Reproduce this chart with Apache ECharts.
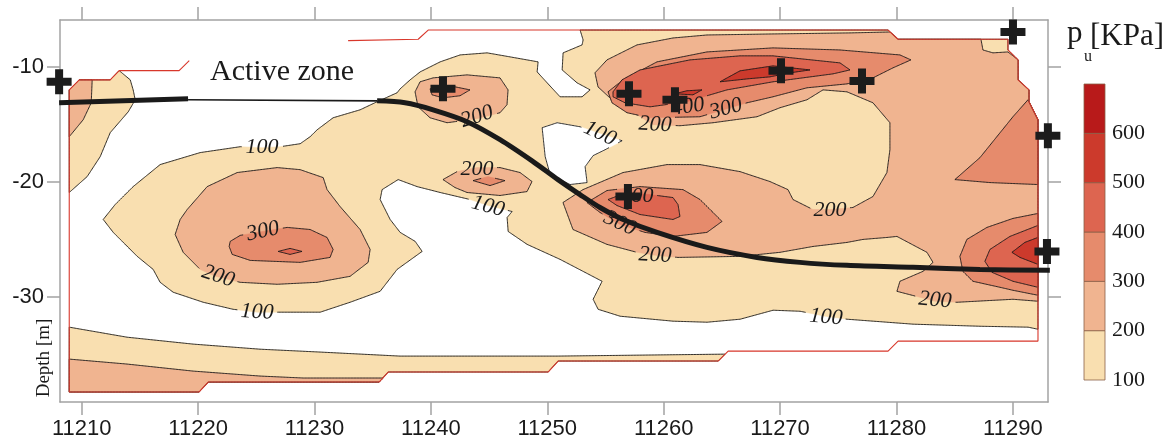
<!DOCTYPE html>
<html><head><meta charset="utf-8">
<script src="https://cdn.jsdelivr.net/npm/echarts@6/dist/echarts.min.js"></script>
<style>html,body{margin:0;padding:0;background:#fff}#c{width:1167px;height:440px}</style>
</head><body><div id="c"></div>
<script>
// ---------- axes / legend values ----------
const xTicks = [11210,11220,11230,11240,11250,11260,11270,11280,11290];
const yTicks = [-30,-20,-10];
const levelEdges = [100,200,300,400,500,600,700];
const levelColors = ['#f9dfb0','#f0b490','#e68b6c','#dd6550','#cc3a2c','#b81a1a'];

// ---------- mesh (data domain) edge ----------
const domainEdge = [[11232.89,-7.75],[11238.91,-7.63],[11239.77,-6.83],[11279.28,-6.83],[11280.14,-7.63],[11289.58,-7.63],[11289.58,-8.56],[11290.45,-9.42],[11290.45,-11.15],[11291.39,-12.02],[11291.39,-13.05],[11292.16,-14.61],[11292.16,-33.81],[11280.14,-33.81],[11279.28,-34.68],[11265.54,-34.68],[11264.68,-35.54],[11250.93,-35.54],[11250.07,-36.49],[11236.33,-36.49],[11235.55,-37.36],[11220.87,-37.36],[11220.09,-38.22],[11208.93,-38.22],[11208.93,-12.02],[11209.79,-11.15],[11212.45,-11.15],[11213.22,-10.35],[11218.37,-10.35],[11219.24,-9.48]];

// ---------- filled contour regions (p_u levels) ----------
const zoneTopLeft100 = [[11208.93,-12.02],[11209.79,-11.15],[11212.45,-11.15],[11213.22,-10.35],[11214.17,-11.15],[11214.42,-12.02],[11214.6,-12.88],[11214.0,-13.92],[11212.45,-15.73],[11211.59,-17.81],[11210.47,-19.54],[11208.93,-20.92]];
const zoneTopLeft200 = [[11208.93,-12.02],[11209.79,-11.15],[11210.9,-11.15],[11210.82,-13.14],[11210.13,-14.61],[11208.93,-16.08]];
const zoneBottom100 = [[11208.93,-32.6],[11213.9,-33.47],[11219.58,-34.07],[11225.32,-34.51],[11230.49,-34.76],[11237.36,-35.11],[11250.85,-35.11],[11265.27,-34.94],[11264.68,-35.54],[11250.93,-35.54],[11250.07,-36.49],[11236.33,-36.49],[11235.55,-37.36],[11220.87,-37.36],[11220.09,-38.22],[11208.93,-38.22]];
const zoneBottom200 = [[11208.93,-35.37],[11213.9,-35.8],[11219.58,-36.41],[11225.32,-36.84],[11229.03,-37.01],[11235.9,-37.01],[11235.55,-37.36],[11220.87,-37.36],[11220.09,-38.22],[11208.93,-38.22]];
const zoneMain100 = [[11252.82,-6.83],[11253.08,-7.69],[11252.99,-8.12],[11251.36,-8.81],[11251.28,-10.29],[11252.56,-11.41],[11253.68,-12.02],[11252.99,-12.62],[11251.1,-12.62],[11249.99,-11.41],[11249.13,-10.46],[11249.21,-9.59],[11246.81,-9.16],[11244.83,-8.81],[11242.51,-8.99],[11240.8,-9.59],[11239.08,-10.46],[11238.22,-11.15],[11237.36,-11.93],[11237.1,-12.27],[11235.38,-13.05],[11233.92,-13.75],[11231.6,-14.44],[11230.23,-15.48],[11229.63,-16.08],[11228.77,-16.69],[11227.05,-16.95],[11225.51,-17.03],[11223.62,-16.95],[11220.18,-17.46],[11216.74,-18.5],[11214.42,-20.41],[11212.88,-21.96],[11211.85,-23.26],[11212.71,-24.38],[11214.77,-26.46],[11216.14,-27.59],[11216.74,-28.71],[11217.86,-29.57],[11220.44,-30.44],[11223.01,-31.05],[11225.08,-31.3],[11227.05,-31.3],[11230.49,-31.3],[11233.06,-30.44],[11235.64,-29.49],[11237.1,-27.59],[11239.25,-26.03],[11238.65,-25.16],[11237.36,-24.38],[11236.5,-23.26],[11235.64,-21.53],[11235.81,-20.67],[11237.19,-19.8],[11238.82,-20.41],[11240.8,-20.92],[11243.37,-21.53],[11244.92,-22.05],[11246.98,-22.57],[11246.55,-23.09],[11246.64,-24.3],[11248.27,-25.42],[11251.1,-26.72],[11254.71,-28.62],[11253.94,-30.18],[11254.37,-31.05],[11256.26,-31.65],[11260.81,-32.08],[11263.73,-32.17],[11266.57,-31.91],[11269.4,-31.13],[11271.72,-31.22],[11273.87,-31.65],[11275.76,-31.91],[11281.43,-32.34],[11287.18,-32.52],[11291.31,-32.6],[11292.16,-32.78],[11292.16,-14.61],[11291.39,-13.05],[11291.39,-12.02],[11290.45,-11.15],[11290.45,-9.42],[11289.58,-8.56],[11289.58,-7.63],[11280.14,-7.63],[11279.28,-6.83]];
const zoneHoleBelow100 = [[11249.56,-15.3],[11250.85,-14.87],[11252.82,-15.22],[11254.54,-15.82],[11256.43,-16.43],[11254.97,-17.21],[11253.94,-17.72],[11253.25,-18.68],[11253.42,-20.06],[11251.96,-20.23],[11250.25,-19.37],[11249.82,-17.81]];
const blobLeft200 = [[11218.03,-24.56],[11218.46,-23.26],[11219.06,-22.4],[11220.78,-20.41],[11223.36,-19.19],[11226.8,-18.76],[11228.77,-18.94],[11230.75,-19.63],[11231.08,-20.67],[11232.2,-22.14],[11233.92,-24.13],[11234.78,-25.86],[11234.61,-26.98],[11233.06,-28.19],[11230.22,-28.71],[11226.8,-28.88],[11223.62,-28.71],[11221.47,-28.19],[11220.18,-27.59],[11218.72,-26.11]];
const blobLeft300 = [[11222.67,-25.6],[11222.76,-25.16],[11223.62,-24.64],[11225.51,-24.3],[11227.66,-23.95],[11229.62,-24.13],[11231.08,-24.82],[11231.6,-25.86],[11231.34,-26.55],[11228.77,-26.98],[11224.48,-26.81],[11222.93,-26.29]];
const blobLeft400 = [[11226.88,-26.03],[11227.9,-25.77],[11228.93,-26.03],[11227.9,-26.29]];
const blobUpper200 = [[11238.64,-12.19],[11239.07,-11.32],[11240.19,-10.98],[11243.11,-10.72],[11245.94,-10.98],[11246.63,-12.02],[11246.54,-13.31],[11245.94,-14.0],[11243.96,-14.52],[11241.39,-14.87],[11239.93,-14.44],[11238.9,-13.49]];
const blobUpper300 = [[11239.93,-11.93],[11241.65,-11.67],[11243.36,-12.02],[11242.5,-12.53],[11241.04,-12.71],[11240.1,-12.45]];
const blobMid200 = [[11241.04,-19.8],[11242.25,-19.11],[11243.96,-18.76],[11245.94,-18.76],[11247.66,-19.19],[11248.69,-19.97],[11248.26,-20.84],[11245.94,-21.18],[11243.11,-20.92],[11242.07,-20.49]];
const blobMid300 = [[11243.62,-19.89],[11244.91,-19.54],[11246.37,-19.89],[11245.08,-20.32]];
const zoneRight200 = [[11254.1,-10.54],[11255.13,-9.42],[11257.71,-8.12],[11260.8,-7.52],[11263.72,-7.26],[11269.39,-7.17],[11276.01,-7.08],[11279.44,-7.0],[11280.14,-7.63],[11287.26,-7.63],[11287.43,-8.56],[11288.29,-8.81],[11289.58,-8.73],[11290.45,-9.42],[11290.45,-11.15],[11291.38,-12.02],[11291.38,-13.05],[11292.15,-14.61],[11292.15,-30.35],[11290.01,-30.18],[11285.2,-30.44],[11283.31,-30.35],[11280.04,-29.49],[11280.3,-28.62],[11282.28,-27.76],[11283.14,-26.98],[11282.62,-26.11],[11280.04,-24.73],[11279.18,-24.82],[11277.12,-24.99],[11275.75,-25.25],[11272.83,-25.6],[11269.99,-26.11],[11266.56,-26.46],[11261.23,-26.55],[11259.26,-26.37],[11257.71,-26.11],[11255.13,-25.42],[11252.21,-24.13],[11251.35,-21.79],[11253.07,-20.67],[11256.51,-19.19],[11260.29,-18.5],[11263.12,-18.5],[11266.56,-19.11],[11269.13,-19.97],[11270.68,-20.67],[11271.11,-21.53],[11272.83,-22.4],[11274.29,-22.4],[11276.26,-22.22],[11277.98,-21.27],[11279.18,-19.19],[11279.44,-17.21],[11279.44,-14.87],[11277.98,-13.14],[11275.75,-12.19],[11273.69,-12.02],[11272.31,-12.88],[11269.99,-13.57],[11268.02,-14.35],[11264.24,-14.87],[11261.4,-15.13],[11259.08,-15.04],[11257.97,-14.35],[11255.56,-12.88],[11254.36,-11.76]];
const ridgeTop300 = [[11255.22,-12.19],[11256.51,-11.15],[11259.43,-9.59],[11263.72,-8.73],[11269.39,-8.38],[11275.15,-8.56],[11280.3,-8.99],[11281.24,-9.42],[11279.7,-10.11],[11277.98,-10.98],[11275.75,-11.5],[11272.31,-11.84],[11269.39,-12.62],[11267.16,-13.14],[11265.44,-13.66],[11263.12,-14.35],[11258.83,-14.44],[11256.85,-14.0],[11255.56,-13.14]];
const ridgeTop400 = [[11255.65,-12.19],[11256.42,-11.15],[11257.97,-10.29],[11262.26,-9.42],[11266.56,-9.07],[11269.39,-9.07],[11275.15,-9.68],[11276.01,-10.29],[11274.55,-10.63],[11269.39,-11.32],[11265.44,-12.02],[11263.12,-12.71],[11261.99,-13.05],[11258.83,-13.49],[11256.68,-13.14],[11255.65,-12.62]];
const ridgeTop500 = [[11264.84,-11.32],[11266.56,-10.37],[11269.39,-9.94],[11272.57,-10.29],[11270.85,-10.54],[11269.13,-10.89],[11267.24,-11.06]];
const ridgeTop500b = [[11260.97,-12.36],[11261.99,-12.1],[11263.29,-12.02],[11262.52,-12.45]];
const blobCentre300 = [[11253.41,-21.79],[11255.13,-20.75],[11257.97,-20.41],[11261.66,-20.67],[11263.12,-21.53],[11264.24,-22.65],[11265.01,-23.43],[11263.72,-24.38],[11260.8,-24.73],[11258.4,-24.38],[11256.25,-23.69],[11254.53,-22.65]];
const blobCentre400 = [[11255.22,-21.53],[11256.85,-20.92],[11258.83,-21.1],[11260.8,-21.36],[11261.23,-21.96],[11261.4,-23.0],[11260.8,-23.26],[11257.97,-22.83],[11255.99,-22.05]];
const edgeRight300a = [[11285.02,-19.8],[11287.17,-17.9],[11290.01,-14.35],[11291.3,-12.88],[11291.38,-13.05],[11292.15,-14.61],[11292.15,-20.23],[11288.03,-20.06]];
const edgeRight300b = [[11292.15,-22.74],[11290.01,-23.17],[11287.77,-23.95],[11286.05,-24.99],[11285.45,-26.46],[11285.71,-27.76],[11286.57,-28.62],[11288.89,-29.14],[11290.01,-29.4],[11292.15,-29.83]];
const edgeRight400 = [[11292.15,-23.78],[11289.75,-24.73],[11288.03,-25.86],[11287.6,-26.89],[11288.2,-27.84],[11290.01,-28.62],[11292.15,-29.14]];
const edgeRight500 = [[11292.15,-24.82],[11291.03,-25.25],[11289.92,-26.11],[11290.61,-26.55],[11292.15,-27.15]];

// painting order: [band index (0 = below 100), ring]
const regions = [
  [1, zoneTopLeft100],[2, zoneTopLeft200],
  [1, zoneBottom100],[2, zoneBottom200],
  [1, zoneMain100],[0, zoneHoleBelow100],
  [2, blobLeft200],[3, blobLeft300],[4, blobLeft400],
  [2, blobUpper200],[3, blobUpper300],
  [2, blobMid200],[3, blobMid300],
  [2, zoneRight200],[3, ridgeTop300],[4, ridgeTop400],[5, ridgeTop500],[5, ridgeTop500b],
  [3, blobCentre300],[4, blobCentre400],
  [3, edgeRight300a],[3, edgeRight300b],[4, edgeRight400],[5, edgeRight500]
];

// contour labels: [x, depth, text, angle°]
const contourLabels = [
  [11225.5,-17.03,'100',0],[11225.58,-24.3,'300',12],[11221.72,-28.19,'200',-18],[11225.07,-31.3,'100',-3],
  [11243.96,-14.35,'200',18],[11243.96,-18.94,'200',0],[11244.91,-22.14,'100',-15],[11254.53,-15.82,'100',-25],
  [11259.25,-15.04,'200',-3],[11262.09,-13.49,'400',8],[11265.35,-13.66,'300',15],[11257.71,-21.27,'400',0],
  [11256.25,-23.61,'300',-25],[11259.25,-26.37,'200',-3],[11274.29,-22.48,'200',0],[11283.31,-30.27,'200',-5],
  [11273.94,-31.74,'100',-5]
];

// test locations (+)
const testPoints = [[11208.06,-11.32],[11241.04,-11.93],[11257.02,-12.36],[11260.97,-12.88],[11270.08,-10.37],[11277.04,-11.24],[11290.01,-7.0],[11293.01,-15.99],[11256.93,-21.27],[11292.93,-26.03]];

// active zone boundary
const activeThickA = [[11208.06,-13.14],[11219.14,-12.79]];
const activeThin = [[11219.14,-12.88],[11235.38,-12.97]];
const activeThickB = [[11235.38,-12.97],[11237.78,-13.14],[11240.19,-13.75],[11243.11,-14.78],[11245.94,-16.34],[11248.78,-18.24],[11250.92,-19.8],[11252.81,-21.1],[11254.53,-22.22],[11256.51,-23.26],[11259.43,-24.38],[11263.72,-25.68],[11268.02,-26.55],[11271.71,-26.98],[11275.75,-27.24],[11281.42,-27.41],[11287.17,-27.59],[11293.18,-27.67]];

// ---------- rendering ----------
const XMIN = 11208.136, XMAX = 11293.02, YMIN = -39.09, YMAX = -5.96;
const LINE = '#1a1a1a';

function labelBoxes(api){
  return contourLabels.map(l => {
    const p = api.coord([l[0], l[1]]);
    const a = l[3]*Math.PI/180;
    return {cx:p[0], cy:p[1], c:Math.cos(a), s:Math.sin(a)};
  });
}
function hidden(p, boxes){
  for (const b of boxes){
    const dx = p[0]-b.cx, dy = p[1]-b.cy;
    const u = dx*b.c - dy*b.s, v = dx*b.s + dy*b.c;
    if (Math.abs(u) < 19.5 && Math.abs(v) < 8.5) return true;
  }
  return false;
}
function strokeRuns(pts, boxes){
  const runs = []; let cur = [];
  const n = pts.length;
  for (let i=0;i<n;i++){
    const a = pts[i], b = pts[(i+1)%n];
    const len = Math.hypot(b[0]-a[0], b[1]-a[1]);
    const steps = Math.max(1, Math.ceil(len/1.5));
    for (let s=0;s<steps;s++){
      const t = s/steps;
      const p = [a[0]+(b[0]-a[0])*t, a[1]+(b[1]-a[1])*t];
      if (hidden(p, boxes)) { if (cur.length>1) runs.push(cur); cur = []; }
      else cur.push(p);
    }
  }
  if (!hidden(pts[0], boxes)) cur.push(pts[0]);
  if (cur.length>1) runs.push(cur);
  return runs;
}

const chart = echarts.init(document.getElementById('c'), null, {renderer:'canvas'});
const axisGray = '#a3a3a3';
const option = {
  animation:false,
  backgroundColor:'#ffffff',
  grid:[
    {left:60, top:20, width:988, height:383},
    {left:1084, top:84, width:21, height:296}
  ],
  xAxis:[
    {type:'value', gridIndex:0, min:XMIN, max:XMAX, position:'bottom',
     axisLine:{onZero:false, lineStyle:{color:axisGray, width:1.5}},
     axisTick:{show:true, inside:false, length:13, customValues:xTicks, lineStyle:{color:axisGray, width:1.5}},
     axisLabel:{customValues:xTicks, formatter:v=>String(Math.round(v)), fontSize:22, fontFamily:'Liberation Sans', color:'#1a1a1a', margin:16},
     splitLine:{show:false}},
    {type:'value', gridIndex:0, min:XMIN, max:XMAX, position:'top',
     axisLine:{onZero:false, lineStyle:{color:axisGray, width:1.5}},
     axisTick:{show:true, inside:false, length:13, customValues:xTicks, lineStyle:{color:axisGray, width:1.5}},
     axisLabel:{show:false}, splitLine:{show:false}},
    {type:'value', gridIndex:1, min:0, max:1, show:false}
  ],
  yAxis:[
    {type:'value', gridIndex:0, min:YMIN, max:YMAX, position:'left',
     axisLine:{onZero:false, lineStyle:{color:axisGray, width:1.5}},
     axisTick:{show:true, inside:false, length:13, customValues:yTicks, lineStyle:{color:axisGray, width:1.5}},
     axisLabel:{customValues:yTicks, formatter:v=>String(Math.round(v)), fontSize:22, fontFamily:'Liberation Sans', color:'#1a1a1a', margin:16},
     splitLine:{show:false}},
    {type:'value', gridIndex:0, min:YMIN, max:YMAX, position:'right',
     axisLine:{onZero:false, lineStyle:{color:axisGray, width:1.5}},
     axisTick:{show:true, inside:false, length:13, customValues:yTicks, lineStyle:{color:axisGray, width:1.5}},
     axisLabel:{show:false}, splitLine:{show:false}},
    {type:'value', gridIndex:1, min:levelEdges[0], max:levelEdges[levelEdges.length-1], interval:100, position:'right',
     axisLine:{show:false}, axisTick:{show:false}, splitLine:{show:false},
     axisLabel:{formatter:v=> v >= 700 ? '' : String(v), fontSize:22, fontFamily:'Liberation Serif', color:'#1a1a1a', margin:7}}
  ],
  graphic:[
    {type:'text', x:210, y:72, z:10, style:{text:'Active zone', font:'30px "Liberation Serif"', fill:'#1a1a1a', textAlign:'left', textVerticalAlign:'middle'}},
    {type:'text', x:1067, y:34, style:{text:'p', font:'31px "Liberation Serif"', fill:'#1a1a1a', textAlign:'left', textVerticalAlign:'middle'}},
    {type:'text', x:1084, y:57, style:{text:'u', font:'16px "Liberation Serif"', fill:'#1a1a1a', textAlign:'left', textVerticalAlign:'middle'}},
    {type:'text', x:1090, y:37, style:{text:'[KPa]', font:'31px "Liberation Serif"', fill:'#1a1a1a', textAlign:'left', textVerticalAlign:'middle'}},
    {type:'text', x:44, y:358, rotation:Math.PI/2, style:{text:'Depth [m]', font:'19px "Liberation Serif"', fill:'#1a1a1a', textAlign:'center', textVerticalAlign:'middle'}}
  ],
  series:[
    {type:'custom', xAxisIndex:0, yAxisIndex:0, z:1, silent:true, clip:false,
     data: regions.map((r,i)=>[r[1][0][0], r[1][0][1], i]),
     renderItem:(params, api)=>{
       const r = regions[api.value(2)];
       const pts = r[1].map(p=>api.coord(p));
       const fill = r[0]===0 ? '#ffffff' : levelColors[r[0]-1];
       const children = [{type:'polygon', shape:{points:pts}, style:{fill:fill, stroke:fill, lineWidth:0.5}}];
       strokeRuns(pts, labelBoxes(api)).forEach(run=>{
         children.push({type:'polyline', shape:{points:run}, style:{stroke:LINE, lineWidth:0.9, fill:null}});
       });
       return {type:'group', children};
     }},
    {type:'line', xAxisIndex:0, yAxisIndex:0, z:2, silent:true, clip:false, data:domainEdge, showSymbol:false, symbol:'none',
     lineStyle:{color:'#d8372b', width:1.1}},
    {type:'custom', xAxisIndex:0, yAxisIndex:0, z:3, silent:true, clip:false,
     data: contourLabels.map(l=>[l[0], l[1]]),
     renderItem:(params, api)=>{
       const l = contourLabels[params.dataIndex];
       const p = api.coord([l[0], l[1]]);
       return {type:'text', x:p[0], y:p[1], rotation:l[3]*Math.PI/180,
         style:{text:l[2], font:'italic 22px "Liberation Serif"', fill:'#1a1a1a', textAlign:'center', textVerticalAlign:'middle', align:'center', verticalAlign:'middle'}};
     }},
    {type:'line', xAxisIndex:0, yAxisIndex:0, z:4, silent:true, clip:false, data:activeThickA, showSymbol:false, symbol:'none',
     lineStyle:{color:'#1a1a1a', width:5, cap:'butt', opacity:1}},
    {type:'line', xAxisIndex:0, yAxisIndex:0, z:4, silent:true, clip:false, data:activeThin, showSymbol:false, symbol:'none',
     lineStyle:{color:'#1a1a1a', width:1.6, opacity:1}},
    {type:'line', xAxisIndex:0, yAxisIndex:0, z:4, silent:true, clip:false, data:activeThickB, showSymbol:false, symbol:'none', smooth:0.3,
     lineStyle:{color:'#1a1a1a', width:5, cap:'butt', opacity:1}},
    {type:'scatter', xAxisIndex:0, yAxisIndex:0, z:5, silent:true, clip:false, data:testPoints,
     symbol:'path://M8.5,0H16.5V8.5H25V16.5H16.5V25H8.5V16.5H0V8.5H8.5Z', symbolSize:25,
     itemStyle:{color:'#1c1c1c', opacity:1}},
    {type:'custom', xAxisIndex:2, yAxisIndex:2, z:1, silent:true,
     data: levelColors.map((c,i)=>[0.5, levelEdges[i], levelEdges[i+1], i]),
     renderItem:(params, api)=>{
       const a = api.coord([0, api.value(2)]), b = api.coord([1, api.value(1)]);
       return {type:'rect', shape:{x:a[0], y:a[1], width:b[0]-a[0], height:b[1]-a[1]},
         style:{fill:levelColors[api.value(3)], stroke:'#8c6048', lineWidth:0.8}};
     }}
  ]
};
chart.setOption(option);
</script>
</body></html>
